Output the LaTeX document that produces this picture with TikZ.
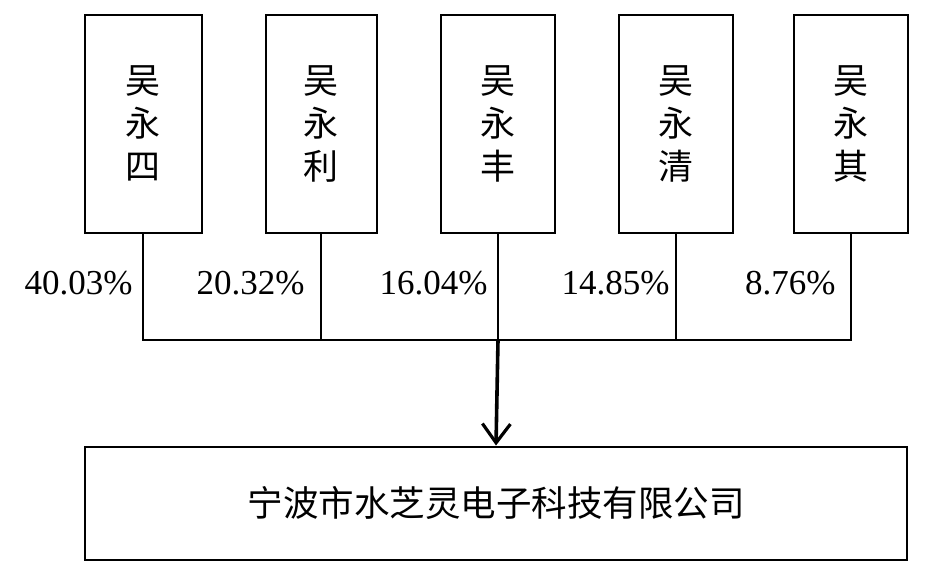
\documentclass[tikz,border=0pt]{standalone}
\usepackage{fontspec}
\setmainfont{Liberation Serif}
\newfontfamily\cjk{Noto Sans CJK SC}
\usetikzlibrary{arrows.meta}
\begin{document}
\begin{tikzpicture}[x=1pt,y=-1pt,
  holder/.style={draw,line width=2pt,minimum width=114pt,minimum height=218pt,
    align=center,font=\cjk\fontsize{35}{43}\selectfont},
  company/.style={draw,line width=2pt,minimum width=822pt,minimum height=113pt,
    font=\cjk\fontsize{35.5}{40}\selectfont},
  share/.style={anchor=east,font=\fontsize{35}{40}\selectfont},
  link/.style={line width=2pt}]
  \useasboundingbox (0,0) rectangle (934,574);
  \node[holder,minimum width=117pt] (wys) at (143,123.5) {吴\\永\\四};
  \node[holder,minimum width=111pt] (wyl) at (321,123.5) {吴\\永\\利};
  \node[holder] (wyf) at (498,123.5) {吴\\永\\丰};
  \node[holder] (wyq) at (676,123.5) {吴\\永\\清};
  \node[holder] (wyk) at (851,123.5) {吴\\永\\其};
  \node[company] (szl) at (496,503) {宁波市水芝灵电子科技有限公司};
  \coordinate (bus) at (498,340);
  \draw[link] (wys.south) |- (bus);
  \draw[link] (wyl.south) |- (bus);
  \draw[link] (wyf.south) -- (bus);
  \draw[link] (wyq.south) |- (bus);
  \draw[link] (wyk.south) |- (bus);
  \draw[line width=3.6pt,-{Straight Barb[length=19pt,width=28pt,line width=3.2pt]}] (bus) -- (szl.north);
  \node[share] (p1) at (136,283) {40.03\%};
  \node[share] (p2) at (308,283) {20.32\%};
  \node[share] (p3) at (491,283) {16.04\%};
  \node[share] (p4) at (673,283) {14.85\%};
  \node[share] (p5) at (839,283) {8.76\%};
\end{tikzpicture}
\end{document}
